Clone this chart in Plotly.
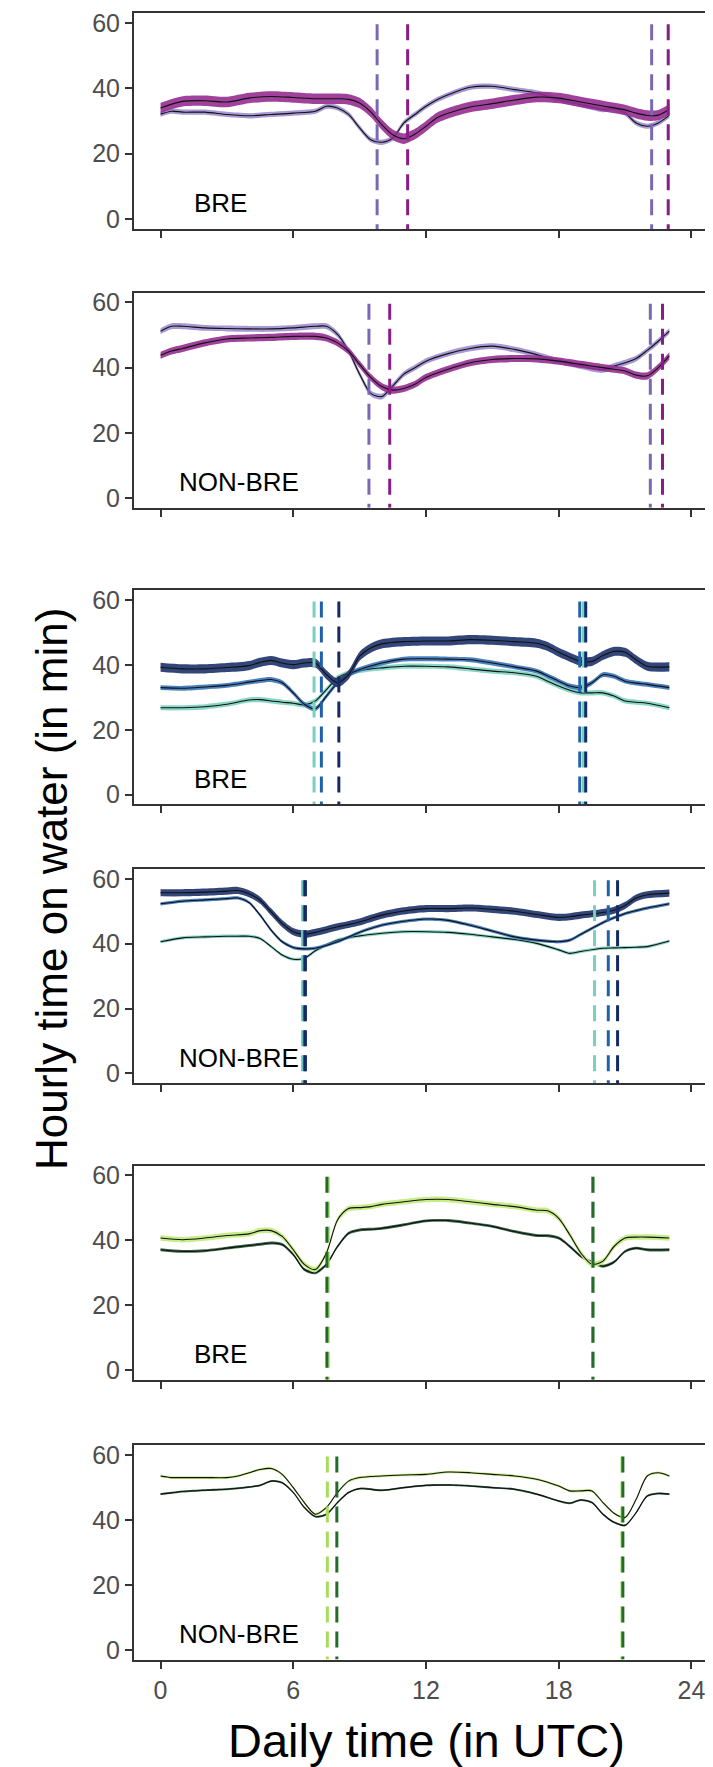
import plotly.graph_objects as go

W, H = 713, 1767

# ---------------- data ----------------
hours_p1 = [0, 0.5, 1, 2, 3, 4, 5, 6, 7, 7.5, 8, 8.5, 9, 9.5, 10, 10.5, 11, 11.5, 12, 12.5, 13, 14, 15, 16, 17, 18, 19, 20, 20.5, 21, 21.5, 22, 22.5, 23]
p1_purple = [32.1, 33.0, 32.7, 32.7, 32.0, 31.6, 32.0, 32.4, 33.0, 34.5, 34.0, 32.0, 27.9, 24.3, 23.5, 24.8, 29.4, 32.0, 34.5, 36.5, 38.0, 40.3, 40.6, 39.6, 38.6, 36.5, 35.0, 33.5, 33.8, 32.4, 29.4, 28.4, 29.4, 31.7]
hours_p1m = [0, 1, 2, 3, 4, 5, 6, 7, 8, 8.5, 9, 9.5, 10, 10.5, 11, 11.5, 12, 12.5, 13, 14, 15, 16, 17, 18, 19, 20, 21, 21.5, 22, 22.5, 23]
p1_magenta = [34.0, 36.0, 36.2, 35.8, 37.0, 37.5, 37.2, 36.8, 36.8, 36.6, 35.5, 32.8, 28.9, 25.8, 24.6, 26.0, 28.4, 31.0, 32.4, 34.3, 35.3, 36.4, 37.3, 37.0, 35.8, 34.6, 33.4, 32.4, 31.7, 31.8, 33.5]

hours_p2 = [0, 0.5, 1, 2, 3, 4, 5, 6, 7, 7.5, 8, 8.5, 9, 9.5, 10, 10.5, 11, 11.5, 12, 13, 14, 15, 16, 17, 18, 19, 20, 20.5, 21, 21.5, 22, 22.5, 23]
p2_purple = [51.2, 52.7, 52.7, 52.2, 52.0, 51.9, 51.9, 52.2, 52.7, 52.7, 50.2, 45.1, 38.0, 32.1, 31.1, 34.4, 38.0, 40.0, 42.0, 44.3, 45.9, 46.6, 45.6, 44.0, 42.0, 40.5, 39.3, 40.5, 41.5, 42.8, 45.3, 48.1, 51.2]
p2_magenta = [43.8, 45.1, 45.9, 47.6, 48.8, 49.1, 49.3, 49.6, 49.6, 49.1, 47.6, 45.1, 41.0, 37.0, 34.2, 33.1, 33.6, 34.9, 37.0, 39.5, 41.5, 42.5, 42.8, 42.7, 42.0, 41.0, 40.0, 39.5, 39.0, 37.7, 37.5, 40.0, 43.6]

hours_p3 = [0, 1, 2, 3, 4, 4.5, 5, 5.5, 6, 6.5, 7, 7.5, 8, 8.5, 9, 9.5, 10, 11, 12, 13, 14, 15, 16, 17, 17.5, 18, 18.5, 19, 19.5, 20, 20.5, 21, 21.5, 22, 23]
p3_navy = [39.3, 38.8, 38.8, 39.2, 39.8, 40.8, 41.4, 40.6, 40.1, 40.6, 40.6, 37.0, 34.5, 37.0, 42.7, 45.2, 46.5, 47.2, 47.4, 47.4, 47.8, 47.6, 47.2, 46.7, 45.7, 43.9, 42.4, 41.1, 41.1, 42.9, 44.2, 43.9, 41.6, 39.6, 39.4]
p3_blue = [33.0, 32.8, 33.2, 33.7, 34.7, 35.2, 35.5, 34.5, 31.4, 27.9, 26.5, 30.4, 34.5, 37.0, 38.6, 39.7, 40.6, 41.8, 41.9, 41.8, 41.6, 40.6, 39.4, 38.1, 36.6, 35.0, 33.5, 33.0, 34.5, 37.0, 36.5, 35.0, 34.4, 34.0, 33.0]
p3_teal = [26.8, 26.8, 27.1, 27.9, 29.2, 29.3, 28.9, 28.5, 28.2, 27.7, 28.9, 32.4, 36.0, 37.6, 38.3, 38.8, 39.1, 39.6, 39.6, 39.4, 38.8, 38.1, 37.6, 36.5, 35.0, 33.5, 32.2, 31.4, 31.4, 31.4, 30.4, 28.9, 28.5, 28.2, 26.8]

hours_p4 = [0, 1, 2, 3, 3.5, 4, 4.5, 5, 5.5, 6, 6.5, 7, 8, 9, 10, 11, 12, 13, 14, 15, 16, 17, 18, 18.5, 19, 20, 20.5, 21, 21.5, 22, 23]
p4_navy = [55.7, 55.7, 55.9, 56.2, 56.4, 55.4, 53.4, 49.8, 46.2, 43.7, 42.9, 43.5, 45.2, 46.7, 48.8, 50.1, 50.8, 50.8, 51.0, 50.6, 50.0, 49.0, 48.1, 48.3, 48.8, 49.6, 50.3, 51.8, 54.1, 55.1, 55.6]
p4_blue = [52.3, 53.1, 53.5, 53.9, 54.1, 52.7, 48.8, 44.2, 40.6, 38.8, 38.4, 38.6, 40.6, 43.5, 45.7, 46.9, 47.6, 47.2, 45.7, 43.9, 42.1, 41.1, 40.6, 41.1, 42.9, 46.5, 48.0, 49.3, 50.2, 51.0, 52.3]
p4_teal = [40.6, 41.8, 42.1, 42.3, 42.3, 42.3, 41.6, 39.1, 36.5, 35.2, 35.5, 37.8, 41.1, 42.4, 43.2, 43.7, 43.7, 43.5, 42.9, 42.1, 41.3, 40.1, 38.1, 37.0, 37.6, 38.6, 38.7, 38.8, 38.9, 39.1, 40.8]

hours_p5 = [0, 1, 2, 3, 4, 4.5, 5, 5.5, 6, 6.5, 7, 7.5, 8, 8.5, 9, 9.5, 10, 11, 12, 13, 14, 15, 16, 17, 17.5, 18, 18.5, 19, 19.5, 20, 20.5, 21, 21.5, 22, 23]
p5_light = [40.7, 40.2, 40.7, 41.5, 42.0, 43.0, 43.0, 41.2, 37.1, 32.6, 31.0, 36.1, 46.3, 49.8, 50.1, 50.4, 51.1, 51.9, 52.6, 52.6, 51.9, 51.1, 50.4, 49.3, 49.1, 46.8, 41.7, 36.1, 32.6, 33.6, 38.1, 40.7, 41.0, 41.0, 40.7]
p5_dark = [37.1, 36.6, 36.8, 37.6, 38.4, 38.8, 39.2, 38.7, 35.6, 31.0, 30.0, 32.6, 38.1, 42.2, 43.2, 43.4, 43.7, 44.8, 46.0, 46.1, 45.3, 44.3, 42.7, 41.5, 41.4, 40.7, 38.1, 35.1, 33.3, 32.0, 33.3, 36.6, 37.6, 37.1, 37.1]

hours_p6 = [0, 0.5, 1, 2, 3, 3.5, 4, 4.5, 5, 5.5, 6, 6.5, 7, 7.5, 8, 8.5, 9, 10, 11, 12, 13, 14, 15, 16, 17, 18, 18.5, 19, 19.5, 20, 20.5, 21, 21.5, 22, 22.5, 23]
p6_light = [53.6, 53.1, 53.1, 53.1, 53.1, 53.6, 54.6, 55.6, 55.9, 54.1, 50.0, 45.4, 41.8, 43.9, 48.5, 52.0, 53.1, 53.6, 53.9, 54.1, 54.8, 54.6, 54.1, 53.6, 52.6, 50.5, 49.0, 49.0, 49.0, 45.4, 42.1, 40.8, 46.4, 53.6, 54.6, 53.6]
p6_dark = [48.0, 48.4, 48.8, 49.2, 49.5, 49.8, 50.2, 50.7, 52.0, 51.5, 48.5, 43.9, 41.1, 41.8, 45.4, 48.5, 49.7, 49.2, 50.0, 50.7, 50.8, 50.5, 50.0, 49.5, 48.0, 45.9, 45.2, 46.2, 45.4, 41.8, 39.3, 38.4, 42.3, 47.4, 48.2, 48.0]

# confidence half-widths (minutes) per series
ci_p1 = {"purple": 0.8, "magenta": 1.6}
ci_p2 = {"purple": 0.9, "magenta": 1.1}
ci_p3 = {"navy": 1.4, "blue": 0.75, "teal": 0.8}
ci_p4 = {"navy": 1.1, "blue": 0.5, "teal": 0.5}
ci_p5 = {"light": 0.85, "dark": 0.45}
ci_p6 = {"light": 0.4, "dark": 0.3}

# sunrise / sunset times (UTC hours)
sun_p1 = {"purple": [9.79, 22.2], "magenta": [11.17, 22.95]}
sun_p2 = {"purple": [9.42, 22.14], "magenta": [10.36, 22.69]}
sun_p3 = {"teal": [6.94, 19.12], "blue": [7.27, 18.95], "navy": [8.06, 19.22]}
sun_p4 = {"teal": [6.42, 19.62], "blue": [6.5, 20.24], "navy": [6.55, 20.66]}
sun_p5 = {"light": [7.58, 19.53], "dark": [7.52, 19.55]}
sun_p6 = {"light": [7.54, 20.86], "dark": [7.97, 20.9]}

panel_labels = ["BRE", "NON-BRE", "BRE", "NON-BRE", "BRE", "NON-BRE"]
x_ticks = [0, 6, 12, 18, 24]
y_ticks = [0, 20, 40, 60]

# ---------------- styles ----------------
line_col = {"purple": "#7B68B4", "magenta": "#8A1C88", "navy": "#142A66", "blue": "#2062AA",
            "teal": "#7ACFBF", "light": "#A6DE5A", "dark": "#226B2A"}
fill_col = {"purple": "rgba(150,135,205,0.85)", "magenta": "rgba(150,45,145,0.9)", "navy": "rgba(40,60,115,0.95)",
            "blue": "rgba(55,115,185,0.9)", "teal": "rgba(125,210,192,0.9)", "light": "rgba(196,236,130,0.95)",
            "dark": "rgba(40,90,55,0.9)"}

panels = [
    ({"purple": (hours_p1, p1_purple), "magenta": (hours_p1m, p1_magenta)}, ci_p1, sun_p1),
    ({"purple": (hours_p2, p2_purple), "magenta": (hours_p2, p2_magenta)}, ci_p2, sun_p2),
    ({"teal": (hours_p3, p3_teal), "blue": (hours_p3, p3_blue), "navy": (hours_p3, p3_navy)}, ci_p3, sun_p3),
    ({"teal": (hours_p4, p4_teal), "blue": (hours_p4, p4_blue), "navy": (hours_p4, p4_navy)}, ci_p4, sun_p4),
    ({"dark": (hours_p5, p5_dark), "light": (hours_p5, p5_light)}, ci_p5, sun_p5),
    ({"dark": (hours_p6, p6_dark), "light": (hours_p6, p6_light)}, ci_p6, sun_p6),
]

# pixel geometry of the six panels (top, bottom)
panel_px = [(1, 218), (282, 498), (581, 796), (861, 1076), (1159, 1374), (1440, 1655)]
x_left, x_right = 126, 710
label_x = [2.7, 3.55, 2.7, 3.55, 2.7, 3.55]

fig = go.Figure()
layout = dict(width=W, height=H, margin=dict(l=0, r=0, t=0, b=0), paper_bgcolor="white",
              plot_bgcolor="white", showlegend=False,
              font=dict(family="Liberation Sans, Arial, sans-serif", color="#4D4D4D"))
annotations = []

for i, (series, ci, sun) in enumerate(panels):
    n = i + 1
    xa = "x" if n == 1 else f"x{n}"
    ya = "y" if n == 1 else f"y{n}"
    top, bot = panel_px[i]
    layout[f"xaxis{'' if n == 1 else n}"] = dict(
        domain=[x_left / W, x_right / W], anchor=ya, range=[-1.2, 25.2], tickvals=x_ticks,
        showticklabels=(n == 6), ticks="outside", ticklen=7, tickwidth=2, tickcolor="#333333",
        showline=True, mirror=True, linecolor="#333333", linewidth=2, showgrid=False, zeroline=False,
        tickfont=dict(size=25, color="#4D4D4D"), fixedrange=True)
    layout[f"yaxis{'' if n == 1 else n}"] = dict(
        domain=[1 - bot / H, 1 - top / H], anchor=xa, range=[-3, 63], tickvals=y_ticks,
        ticks="outside", ticklen=7, tickwidth=2, tickcolor="#333333", showline=True, mirror=True,
        linecolor="#333333", linewidth=2, showgrid=False, zeroline=False,
        tickfont=dict(size=25, color="#4D4D4D"), fixedrange=True)

    for key, (xs, ys) in series.items():
        hw = ci[key]
        lo = [v - hw for v in ys]
        hi = [v + hw for v in ys]
        fig.add_trace(go.Scatter(x=xs, y=lo, xaxis=xa, yaxis=ya, mode="lines",
                                 line=dict(width=0, shape="spline", smoothing=0.8), hoverinfo="skip"))
        fig.add_trace(go.Scatter(x=xs, y=hi, xaxis=xa, yaxis=ya, mode="lines", fill="tonexty",
                                 fillcolor=fill_col[key],
                                 line=dict(width=0, shape="spline", smoothing=0.8), hoverinfo="skip"))
        fig.add_trace(go.Scatter(x=xs, y=ys, xaxis=xa, yaxis=ya, mode="lines",
                                 line=dict(color="#111111", width=1.1, shape="spline", smoothing=0.8)))
    for key, times in sun.items():
        for t in times:
            fig.add_trace(go.Scatter(x=[t, t], y=[59.6, -3], xaxis=xa, yaxis=ya, mode="lines",
                                     line=dict(color=line_col[key], width=3, dash="16px,9px")))
    annotations.append(dict(x=label_x[i], y=4.8, xref=xa, yref=ya, text=panel_labels[i], showarrow=False,
                            font=dict(size=26, color="black"), xanchor="center", yanchor="middle"))

annotations.append(dict(x=418 / W, y=1 - 1736 / H, xref="paper", yref="paper", text="Daily time (in UTC)",
                        showarrow=False, font=dict(size=47, color="black"), xanchor="center", yanchor="middle"))
annotations.append(dict(x=43 / W, y=1 - 881 / H, xref="paper", yref="paper", text="Hourly time on water (in min)",
                        showarrow=False, textangle=-90, font=dict(size=44, color="black"),
                        xanchor="center", yanchor="middle"))
layout["annotations"] = annotations
fig.update_layout(**layout)
fig.write_html("out.html")
